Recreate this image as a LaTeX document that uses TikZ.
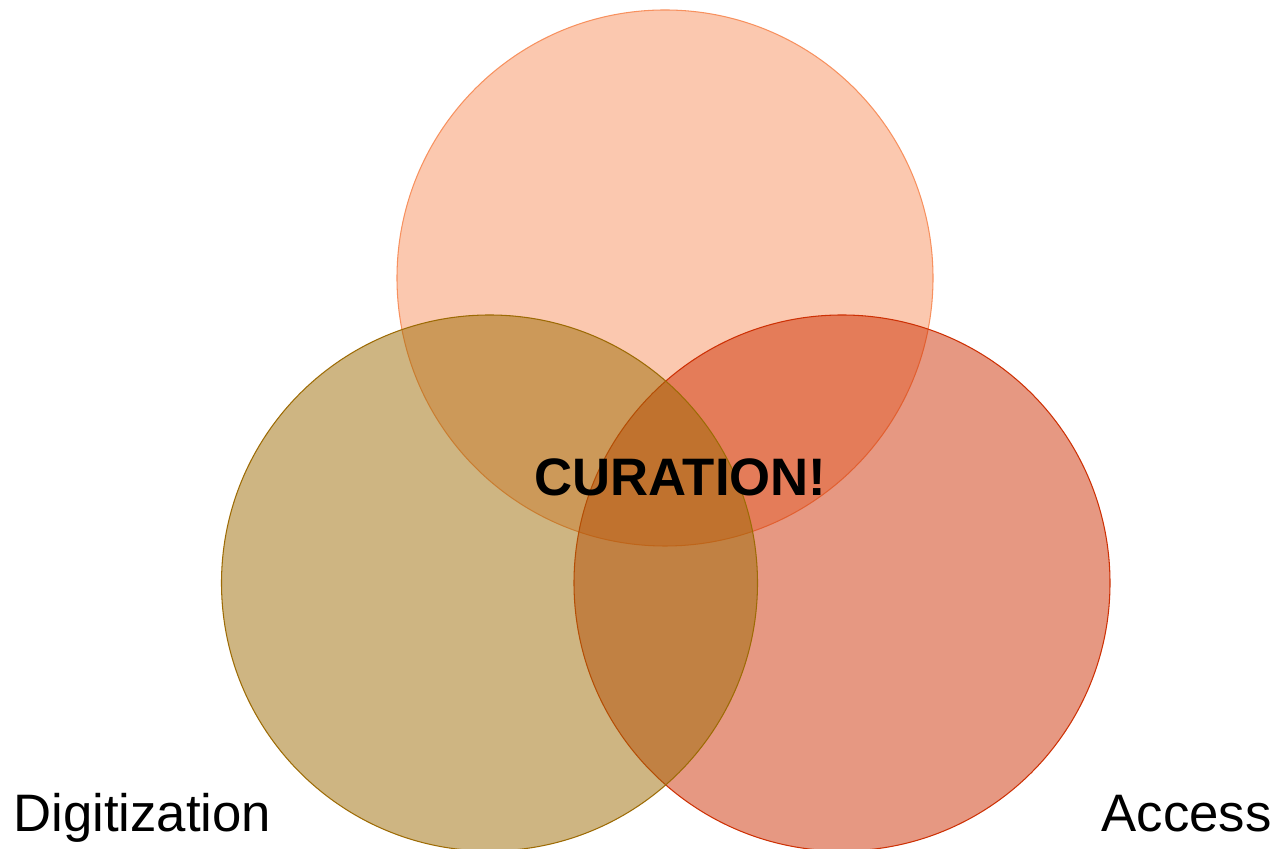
\documentclass[tikz,border=0pt]{standalone}
\usepackage{fontspec}
\setmainfont{Liberation Sans}
\definecolor{curatetop}{RGB}{247,145,95}
\definecolor{digitan}{RGB}{157,107,5}
\definecolor{accessred}{RGB}{205,49,5}
\begin{document}
\begin{tikzpicture}
  \useasboundingbox (0,0) rectangle (25.66,16.98);
  \draw[curatetop,line width=0.6pt,fill=curatetop,fill opacity=0.5] (13.30,11.42) circle (5.36);
  \draw[accessred,line width=0.6pt,fill=accessred,fill opacity=0.5] (16.84,5.32) circle (5.36);
  \draw[digitan,line width=0.6pt,fill=digitan,fill opacity=0.5] (9.79,5.32) circle (5.36);
  \node (curation) at (13.61,7.44) {\fontsize{30}{36}\selectfont\bfseries CURATION!};
  \node[anchor=base west,inner sep=0pt] (digitization) at (0.26,0.34) {\fontsize{30}{36}\selectfont Digitization};
  \node[anchor=base east,inner sep=0pt] (access) at (25.44,0.34) {\fontsize{30}{36}\selectfont Access};
\end{tikzpicture}
\end{document}
